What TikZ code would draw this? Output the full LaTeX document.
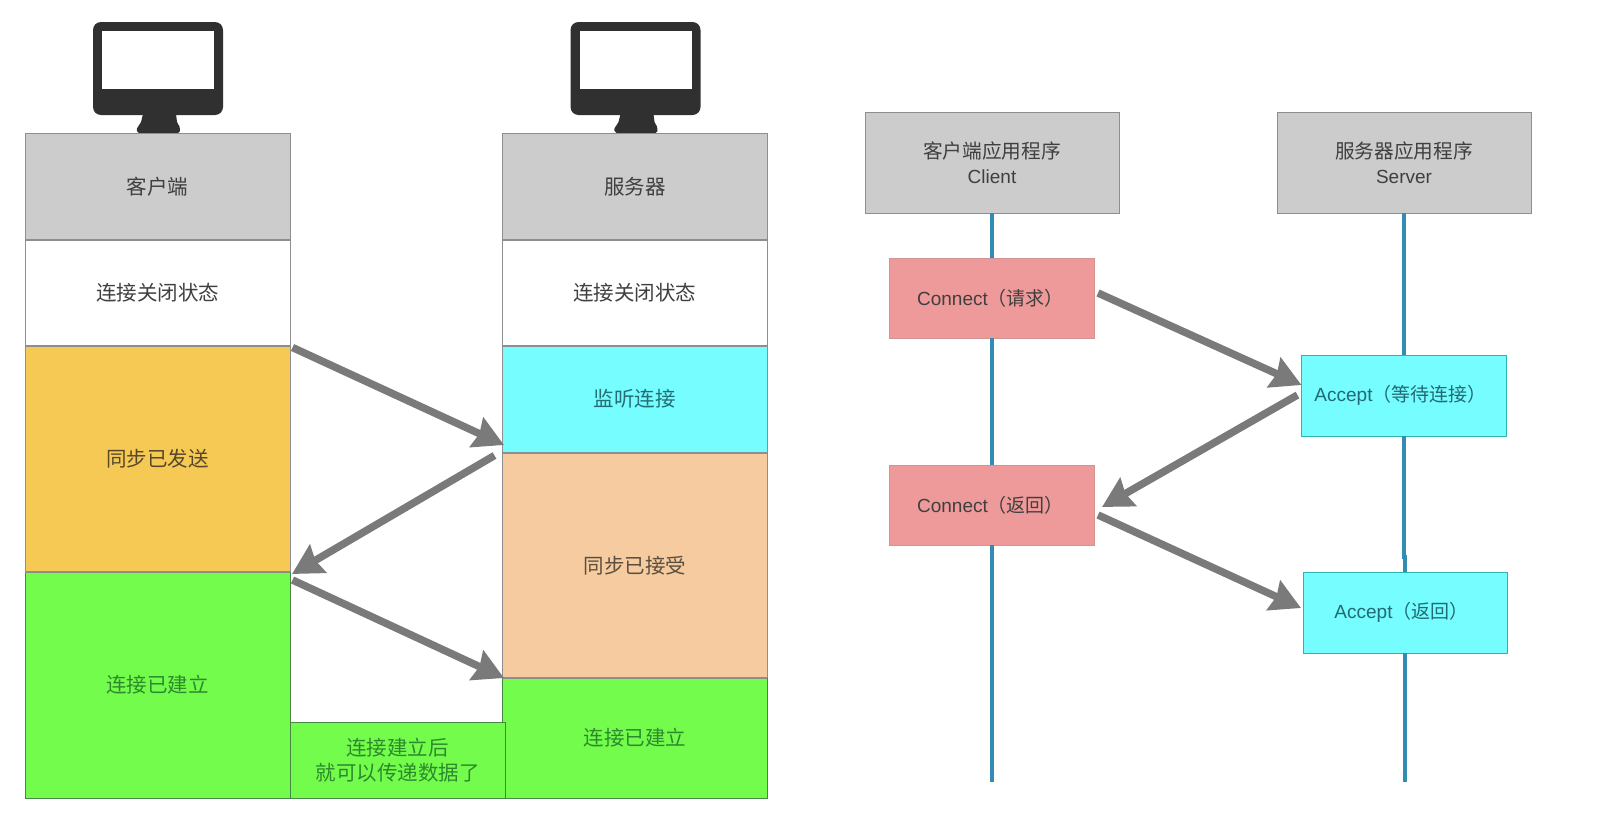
\documentclass[tikz,border=0pt]{standalone}
\usepackage{fontspec}
\setmainfont{Liberation Sans}
\newfontfamily\cjk{Noto Sans CJK SC}
\usetikzlibrary{arrows.meta}
\definecolor{ink}{HTML}{3F3F3F}
\definecolor{hdr}{HTML}{CCCCCC}
\definecolor{edge}{HTML}{8E8E8E}
\definecolor{yel}{HTML}{F5C954}
\definecolor{grn}{HTML}{74FC4C}
\definecolor{cya}{HTML}{75FDFF}
\definecolor{pch}{HTML}{F5CB9F}
\definecolor{pnk}{HTML}{EE9A9A}
\definecolor{life}{HTML}{338DB3}
\definecolor{arr}{HTML}{7A7A7A}
\definecolor{dark}{HTML}{303030}
\definecolor{grntext}{HTML}{2C8A2C}
\definecolor{cyatext}{HTML}{246E74}
\definecolor{acctext}{HTML}{226A74}
\definecolor{yeltext}{HTML}{55482A}
\definecolor{pchtext}{HTML}{5A4E40}
\tikzset{
  cell/.style={draw=edge,line width=1pt,rectangle,inner sep=0pt,outer sep=0pt,align=center,font=\cjk\fontsize{20.5}{25}\selectfont,text=ink},
  big/.style={line width=2pt},
  graybox/.style={cell,fill=hdr},
  whitebox/.style={cell,fill=white},
  yelbox/.style={cell,fill=yel,text=yeltext},
  grnbox/.style={cell,fill=grn,draw=grntext!70!gray,text=grntext},
  cyabox/.style={cell,fill=cya,text=cyatext},
  pchbox/.style={cell,fill=pch,text=pchtext},
  pnkbox/.style={cell,fill=pnk,draw=pnk!75!gray,font=\fontsize{19}{24}\selectfont,text=ink},
  acbox/.style={cell,fill=cya,draw=teal!60!cya,font=\fontsize{19}{24}\selectfont,text=acctext},
  headbox/.style={cell,fill=hdr,font=\fontsize{19}{24.5}\selectfont},
  lifeline/.style={draw=life,line width=3.2pt},
  flow/.style={draw=arr,line width=7.5pt,-{Stealth[length=30pt,width=32pt,inset=3pt]}},
}
\newcommand{\zh}[1]{{\cjk\fontsize{19.7}{24.5}\selectfont #1}}
\newcommand{\zs}[1]{{\cjk\fontsize{19}{24}\selectfont #1}}
\newcommand{\bx}[7]{\node[#6,minimum width={(#4-#2)*1pt},minimum height={(#5-#3)*1pt}] (#1) at ({(#2+#4)/2},{(#3+#5)/2}) {#7};}
\newcommand{\monitor}[1]{%
  \begin{scope}[xshift=#1pt]
    \fill[dark,rounded corners=8pt] (93,22) rectangle (223,115);
    \fill[white] (102,31) rectangle (214,89);
    \fill[dark] (143,114) -- (176,114) -- (177,122) .. controls (179,126) and (181,128) .. (180,131) -- (178,133) -- (139,133) -- (137,131) .. controls (136,128) and (139,126) .. (141,122) -- cycle;
  \end{scope}}
\begin{document}
\begin{tikzpicture}[x=1pt,y=-1pt]
\useasboundingbox (0,0) rectangle (1598,830);
\monitor{0}
\monitor{477.5}
% left panel: client
\bx{chead}{25}{133.5}{290}{239.5}{graybox}{客户端}
\bx{cclosed}{25}{239.5}{290}{345.5}{whitebox}{连接关闭状态}
\bx{csent}{25}{345.5}{290}{572}{yelbox}{同步已发送}
\bx{cest}{25}{572}{290}{798}{grnbox}{连接已建立}
% left panel: server
\bx{shead}{502.5}{133.5}{767}{239.5}{graybox}{服务器}
\bx{sclosed}{502.5}{239.5}{767}{345.5}{whitebox}{连接关闭状态}
\bx{slisten}{502.5}{345.5}{767}{452.5}{cyabox}{监听连接}
\bx{srecv}{502.5}{452.5}{767}{678}{pchbox}{同步已接受}
\bx{sest}{502.5}{678}{767}{798}{grnbox}{连接已建立}
\bx{note}{290}{722}{505}{798.5}{grnbox}{连接建立后\\就可以传递数据了}
\draw[edge,big] (chead.south west) -- (chead.south east);
\draw[edge,big] (shead.south west) -- (shead.south east);
\draw[edge,big] (cclosed.south west) -- (cclosed.south east);
\draw[edge,big] (sclosed.south west) -- (sclosed.south east);
\draw[edge,big] (slisten.south west) -- (slisten.south east);
\draw[edge,big] (srecv.south west) -- (srecv.south east);
\draw[edge,big] (csent.south west) -- (csent.south east);
\draw[flow] ([shift={(2.5,2)}]csent.north east) -- ([shift={(1.5,-7.5)}]slisten.south west);
\draw[flow] ([shift={(-8,3)}]slisten.south west) -- ([shift={(2,2)}]csent.south east);
\draw[flow] ([shift={(2.5,8)}]cest.north east) -- ([shift={(1.5,0)}]srecv.south west);
% right panel
\bx{capp}{865}{112}{1119}{213}{headbox}{\zh{客户端应用程序}\\Client}
\bx{sapp}{1277}{112}{1531}{213}{headbox}{\zh{服务器应用程序}\\Server}
\bx{conn}{889.5}{258}{1094.5}{338}{pnkbox}{\raisebox{-1pt}{Connect\zs{（请求）}\hspace{3pt}}}
\bx{connr}{889.5}{465}{1094.5}{545}{pnkbox}{\raisebox{-1pt}{Connect\zs{（返回）}\hspace{3pt}}}
\bx{acc}{1301.5}{355}{1506.5}{436}{acbox}{\raisebox{-1pt}{Accept\zs{（等待连接）}\hspace{7pt}}}
\bx{accr}{1303}{572}{1507}{653}{acbox}{\raisebox{-1pt}{Accept\zs{（返回）}\hspace{7pt}}}
\coordinate (cend) at (992,782);
\coordinate (send) at (1405,782);
\coordinate (jogA) at (1404,557);
\coordinate (jogB) at (1405,557);
\draw[lifeline] (capp.south) -- (conn.north);
\draw[lifeline] (conn.south) -- (connr.north);
\draw[lifeline] (connr.south) -- (cend);
\draw[lifeline] (sapp.south) -- (acc.north);
\draw[lifeline] (acc.south) -- (jogA) -- (jogB) -- (accr.north);
\draw[lifeline] (accr.south) -- (send);
\draw[flow] ([shift={(3.5,-45)}]conn.south east) -- ([shift={(0,-51)}]acc.south west);
\draw[flow] ([shift={(-4,-41)}]acc.south west) -- ([shift={(7.5,-38)}]connr.south east);
\draw[flow] ([shift={(3.5,-30)}]connr.south east) -- ([shift={(-2,-45)}]accr.south west);
\end{tikzpicture}
\end{document}
